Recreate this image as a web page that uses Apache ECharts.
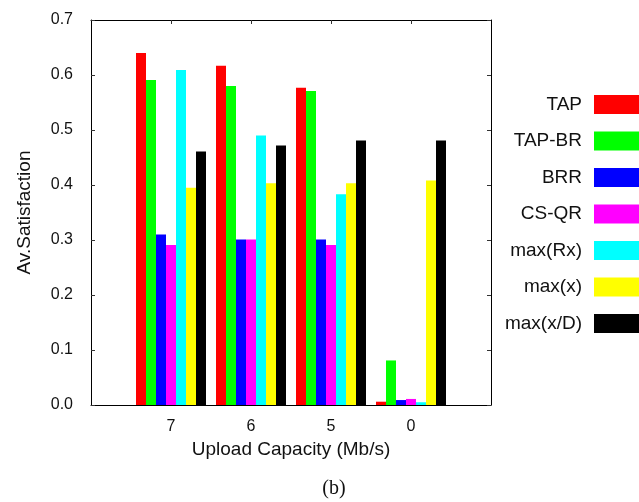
<!DOCTYPE html>
<html>
<head>
<meta charset="utf-8">
<script src="https://cdn.jsdelivr.net/npm/echarts@6/dist/echarts.min.js"></script>
<style>
  html, body { margin: 0; padding: 0; background: #fff; }
  #chart { width: 639px; height: 502px; }
</style>
</head>
<body>
<div id="chart"></div>
<script>
// Upload capacity groups (Mb/s)
const categories = ['7', '6', '5', '0'];

// Average satisfaction per scheme
const seriesNames = ['TAP', 'TAP-BR', 'BRR', 'CS-QR', 'max(Rx)', 'max(x)', 'max(x/D)'];
const tap     = [0.640, 0.617, 0.577, 0.006];
const tapBr   = [0.591, 0.580, 0.571, 0.081];
const brr     = [0.310, 0.301, 0.301, 0.009];
const csQr    = [0.291, 0.301, 0.291, 0.011];
const maxRx   = [0.609, 0.490, 0.383, 0.005];
const maxX    = [0.395, 0.403, 0.403, 0.408];
const maxXD   = [0.461, 0.472, 0.481, 0.481];
const yTicks  = [0.0, 0.1, 0.2, 0.3, 0.4, 0.5, 0.6, 0.7];

const values = [tap, tapBr, brr, csQr, maxRx, maxX, maxXD];
const colors = ['#ff0000', '#00ff00', '#0000ff', '#ff00ff', '#00ffff', '#ffff00', '#000000'];

const FONT = '"Liberation Sans", Arial, Helvetica, sans-serif';

// pad the category axis with an empty slot on each side so groups sit on ticks
const axisCats = [''].concat(categories, ['']);

const chart = echarts.init(document.getElementById('chart'), null, { renderer: 'canvas' });

const series = seriesNames.map((name, i) => ({
  name: name,
  type: 'bar',
  data: [null].concat(values[i], [null]),
  barWidth: 10,
  barGap: '0%',
  itemStyle: { color: colors[i] },
  emphasis: { disabled: true },
  animation: false
}));

chart.setOption({
  animation: false,
  backgroundColor: '#ffffff',
  grid: { left: 91, right: 148, top: 20, bottom: 97, containLabel: false },
  legend: {
    orient: 'vertical',
    right: -5,
    top: 90,
    align: 'right',
    itemWidth: 45,
    itemHeight: 19,
    itemGap: 17.5,
    icon: 'rect',
    selectedMode: false,
    data: seriesNames,
    textStyle: { fontFamily: FONT, fontSize: 19, color: '#111', padding: [0, 7, 0, 0] }
  },
  xAxis: [
    {
      type: 'category',
      data: axisCats,
      boundaryGap: false,
      position: 'bottom',
      name: 'Upload Capacity (Mb/s)',
      nameLocation: 'middle',
      nameGap: 33,
      nameTextStyle: { fontFamily: FONT, fontSize: 19, color: '#111' },
      axisLine: { show: true, onZero: false, lineStyle: { color: '#000', width: 1 } },
      axisTick: { show: false },
      axisLabel: { fontFamily: FONT, fontSize: 16, color: '#111', margin: 14, interval: 0 },
      splitLine: { show: false }
    },
    {
      type: 'category',
      data: axisCats,
      boundaryGap: false,
      position: 'top',
      axisLine: { show: true, onZero: false, lineStyle: { color: '#000', width: 1 } },
      axisTick: {
        show: true, inside: true, length: 4,
        interval: (idx) => idx > 0 && idx < axisCats.length - 1,
        lineStyle: { color: '#333' }
      },
      axisLabel: { show: false },
      splitLine: { show: false }
    }
  ],
  yAxis: [
    {
      type: 'value',
      min: yTicks[0],
      max: yTicks[yTicks.length - 1],
      interval: 0.1,
      position: 'left',
      name: 'Av.Satisfaction',
      nameLocation: 'middle',
      nameGap: 57,
      nameRotate: 90,
      nameTextStyle: { fontFamily: FONT, fontSize: 19, color: '#111' },
      axisLine: { show: true, onZero: false, lineStyle: { color: '#000', width: 1 } },
      axisTick: { show: true, inside: true, length: 4, lineStyle: { color: '#333' } },
      axisLabel: {
        fontFamily: FONT, fontSize: 16, color: '#111', margin: 18,
        formatter: (v) => v.toFixed(1)
      },
      splitLine: { show: false }
    },
    {
      type: 'value',
      min: yTicks[0],
      max: yTicks[yTicks.length - 1],
      interval: 0.1,
      position: 'right',
      axisLine: { show: true, onZero: false, lineStyle: { color: '#000', width: 1 } },
      axisTick: { show: true, inside: true, length: 4, lineStyle: { color: '#333' } },
      axisLabel: { show: false },
      splitLine: { show: false }
    }
  ],
  graphic: [
    {
      type: 'text',
      x: 334,
      y: 489,
      style: {
        text: '(b)',
        fontFamily: '"Liberation Serif", "Times New Roman", serif',
        fontSize: 20,
        fill: '#111',
        align: 'center',
        verticalAlign: 'middle'
      }
    }
  ],
  series: series
});
</script>
</body>
</html>
